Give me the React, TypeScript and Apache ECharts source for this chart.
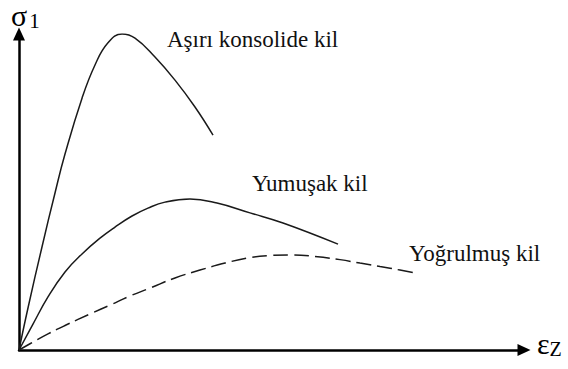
import React, { useEffect, useRef } from "react";
import * as echarts from "echarts";

// Strain (εz) and stress (σ1) samples for each clay type
const overconsolidatedStrain = [0, 1.78, 4.55, 7.13, 9.11, 12.48, 15.05, 17.62, 20.4, 22.97, 26.93, 30.89, 34.85, 38.42];
const overconsolidatedStress = [0, 13.3, 32.6, 49.7, 62.0, 79.7, 90.2, 97.2, 100.0, 98.7, 92.7, 85.4, 76.9, 68.0];

const softStrain = [0, 2.77, 5.74, 9.11, 12.48, 16.04, 19.01, 22.38, 25.54, 28.91, 33.86, 39.21, 45.74, 52.28, 63.17];
const softStress = [0, 8.2, 16.8, 24.7, 30.4, 35.4, 38.9, 42.4, 44.9, 46.8, 47.8, 46.5, 43.4, 40.2, 33.5];

const remouldedStrain = [0, 2.77, 5.74, 9.31, 14.06, 18.02, 21.98, 25.94, 30.89, 35.84, 40.79, 45.15, 49.7, 53.66, 58.61, 63.56, 67.52, 71.49, 75.45, 79.01];
const remouldedStress = [0, 2.5, 5.1, 7.9, 11.4, 14.2, 17.1, 19.6, 22.8, 25.3, 27.5, 29.1, 29.9, 30.1, 29.6, 28.6, 27.5, 26.4, 25.3, 24.2];

const curveNames = ["Aşırı konsolide kil", "Yumuşak kil", "Yoğrulmuş kil"];

const pairs = (xs: number[], ys: number[]) => xs.map((x, i) => [x, ys[i]]);

const SERIF = "Liberation Serif";

export default function App() {
  const ref = useRef<HTMLDivElement>(null);

  useEffect(() => {
    if (!ref.current) return;
    const chart = echarts.init(ref.current, undefined, { renderer: "svg" });

    // Plain black axes ending in arrowheads, no ticks or labels
    const axisLine = {
      show: true,
      symbol: ["none", "triangle"],
      symbolSize: [12, 13],
      lineStyle: { color: "#000", width: 2.5 },
    };

    const lineSeries = (name: string, data: number[][], dashed: boolean) => ({
      name,
      type: "line",
      data,
      smooth: 0.45,
      showSymbol: false,
      lineStyle: {
        color: "#1a1a1a",
        width: 1.5,
        type: dashed ? [15, 6] : "solid",
      },
    });

    const label = (text: string, left: number, top: number) => ({
      type: "text",
      left,
      top,
      style: { text, fontFamily: SERIF, fontSize: 23, fill: "#111" },
    });

    chart.setOption({
      animation: false,
      backgroundColor: "#fff",
      textStyle: { fontFamily: SERIF },
      grid: { left: 19, right: 44, top: 34, bottom: 19 },
      xAxis: {
        type: "value",
        min: 0,
        max: 100,
        axisLine,
        axisTick: { show: false },
        axisLabel: { show: false },
        splitLine: { show: false },
      },
      yAxis: {
        type: "value",
        min: 0,
        max: 100,
        axisLine,
        axisTick: { show: false },
        axisLabel: { show: false },
        splitLine: { show: false },
      },
      series: [
        lineSeries(curveNames[0], pairs(overconsolidatedStrain, overconsolidatedStress), false),
        lineSeries(curveNames[1], pairs(softStrain, softStress), false),
        lineSeries(curveNames[2], pairs(remouldedStrain, remouldedStress), true),
      ],
      graphic: [
        {
          type: "text",
          left: 11,
          top: 0,
          style: {
            text: "{s|σ}{n|1}",
            rich: {
              s: { fontFamily: SERIF, fontSize: 30, fill: "#000", lineHeight: 30 },
              n: { fontFamily: SERIF, fontSize: 21, fill: "#000", padding: [12, 0, 0, 2] },
            },
          },
        },
        {
          type: "text",
          left: 537,
          top: 328,
          style: {
            text: "{e|ε}{z|Z}",
            rich: {
              e: { fontFamily: SERIF, fontSize: 30, fill: "#000", lineHeight: 30 },
              z: { fontFamily: SERIF, fontSize: 20, fill: "#000", padding: [12, 0, 0, 0] },
            },
          },
        },
        label(curveNames[0], 167, 28),
        label(curveNames[1], 252, 172),
        label(curveNames[2], 409, 242),
      ],
    });

    return () => chart.dispose();
  }, []);

  return (
    <div
      ref={ref}
      style={{ position: "absolute", left: 0, top: 0, width: 568, height: 369 }}
    />
  );
}
